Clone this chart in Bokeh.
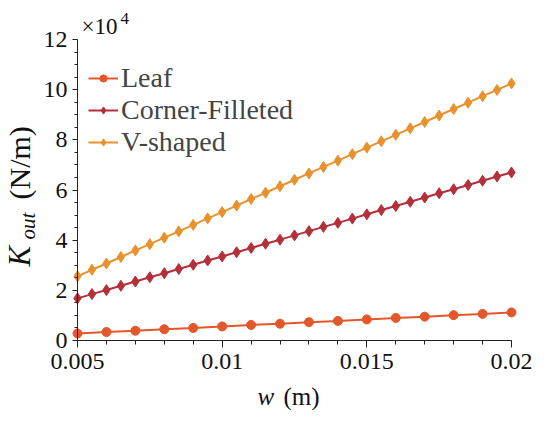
import math
from bokeh.plotting import figure
from bokeh.models import Range1d, FixedTicker, Label, Legend, LegendItem
from bokeh.embed import file_html
from bokeh.resources import INLINE

# ---- data (K_out in units of 1e4 N/m) ----
w_leaf = [0.005, 0.006, 0.007, 0.008, 0.009, 0.010, 0.011, 0.012,
          0.013, 0.014, 0.015, 0.016, 0.017, 0.018, 0.019, 0.020]
k_leaf = [0.28, 0.34, 0.39, 0.45, 0.50, 0.56, 0.62, 0.67,
          0.73, 0.78, 0.84, 0.90, 0.95, 1.01, 1.06, 1.12]

w_fine = [0.0050, 0.0055, 0.0060, 0.0065, 0.0070, 0.0075, 0.0080, 0.0085,
          0.0090, 0.0095, 0.0100, 0.0105, 0.0110, 0.0115, 0.0120, 0.0125,
          0.0130, 0.0135, 0.0140, 0.0145, 0.0150, 0.0155, 0.0160, 0.0165,
          0.0170, 0.0175, 0.0180, 0.0185, 0.0190, 0.0195, 0.0200]
k_corner = [1.68, 1.85, 2.01, 2.18, 2.35, 2.52, 2.68, 2.85, 3.02, 3.19,
            3.35, 3.52, 3.69, 3.86, 4.02, 4.19, 4.36, 4.53, 4.69, 4.86,
            5.03, 5.20, 5.36, 5.53, 5.70, 5.87, 6.03, 6.20, 6.37, 6.54, 6.70]
k_vshape = [2.56, 2.82, 3.07, 3.33, 3.59, 3.84, 4.10, 4.35, 4.61, 4.87,
            5.12, 5.38, 5.64, 5.89, 6.15, 6.41, 6.66, 6.92, 7.17, 7.43,
            7.69, 7.94, 8.20, 8.46, 8.71, 8.97, 9.23, 9.48, 9.74, 9.99, 10.25]

series_names = ["Leaf", "Corner-Filleted", "V-shaped"]
x_ticks = [0.005, 0.01, 0.015, 0.02]
x_tick_labels = ["0.005", "0.01", "0.015", "0.02"]
x_minor = [0.005, 0.006, 0.007, 0.008, 0.009, 0.010, 0.011, 0.012,
           0.013, 0.014, 0.015, 0.016, 0.017, 0.018, 0.019, 0.020]
y_ticks = [0, 2, 4, 6, 8, 10, 12]
y_minor = [i * 0.5 for i in range(25)]
x_lim = (0.005, 0.02)
y_lim = (0, 12)

FONT = "Liberation Serif"
C_LEAF = "#E4572A"
C_CORNER = "#B3303A"
C_V = "#E8922F"

# ---- layout: the frame covers the whole canvas; axes are fixed inside it ----
W, H = 534, 410
PX_L, PX_R = 77, 511      # pixel columns of x_lim
PY_B, PY_T = 340, 39      # pixel rows of y_lim
sxp = (x_lim[1] - x_lim[0]) / (PX_R - PX_L)
syp = (y_lim[1] - y_lim[0]) / (PY_B - PY_T)
xr = Range1d(x_lim[0] - PX_L * sxp, x_lim[1] + (W - PX_R) * sxp)
yr = Range1d(y_lim[0] - (H - PY_B) * syp, y_lim[1] + PY_T * syp)

p = figure(width=W, height=H, min_border=0,
           x_range=xr, y_range=yr,
           output_backend="svg", toolbar_location=None)
p.outline_line_color = None
p.xgrid.visible = False
p.ygrid.visible = False

p.xaxis.fixed_location = y_lim[0]
p.xaxis.bounds = x_lim
p.yaxis.fixed_location = x_lim[0]
p.yaxis.bounds = y_lim

p.xaxis.ticker = FixedTicker(ticks=x_ticks, minor_ticks=x_minor)
p.xaxis.major_label_overrides = {t: l for t, l in zip(x_ticks, x_tick_labels)}
p.yaxis.ticker = FixedTicker(ticks=y_ticks, minor_ticks=y_minor)
for ax in (p.xaxis, p.yaxis):
    ax.axis_line_color = "#222222"
    ax.major_tick_line_color = "#222222"
    ax.minor_tick_line_color = "#222222"
    ax.major_tick_in = 0
    ax.minor_tick_in = 0
    ax.major_label_text_font = FONT
    ax.major_label_text_font_size = "24px"
    ax.major_label_text_color = "#111111"
p.xaxis.major_tick_out = 7
p.xaxis.minor_tick_out = 4
p.yaxis.major_tick_out = 5
p.yaxis.minor_tick_out = 3
p.xaxis.major_label_standoff = 6
p.yaxis.major_label_standoff = 5

items = []
for name, xs, ys, col, mk, sz in [
        (series_names[0], w_leaf, k_leaf, C_LEAF, "circle", 9),
        (series_names[1], w_fine, k_corner, C_CORNER, "diamond", 11),
        (series_names[2], w_fine, k_vshape, C_V, "diamond", 11)]:
    l = p.line(xs, ys, line_color=col, line_width=2)
    s = p.scatter(xs, ys, marker=mk, size=sz, fill_color=col, line_color=col)
    items.append(LegendItem(label=name, renderers=[l, s]))

leg = Legend(items=items, location=(88, 252))
leg.border_line_color = None
leg.background_fill_alpha = 0
leg.padding = 0
leg.margin = 0
leg.spacing = 0
leg.glyph_width = 30
leg.glyph_height = 18
leg.label_height = 31
leg.label_standoff = 3
leg.label_text_font = FONT
leg.label_text_font_size = "28px"
leg.label_text_baseline = "middle"
p.add_layout(leg, "center")

def lab(txt, px, py, size, style="normal", angle=0.0):
    # px, py: canvas pixels from the top-left corner
    p.add_layout(Label(x=px, y=H - py, x_units="screen", y_units="screen", text=txt,
                       text_font=FONT, text_font_size=size, text_font_style=style,
                       text_color="#111111", angle=angle, text_align="left",
                       text_baseline="alphabetic"))

# x axis label
lab("w", 257, 396, "25px", "italic")
lab("(m)", 283, 396, "25px")
# y axis label (rotated)
lab("K", 19, 266, "31px", "italic", math.pi / 2)
lab("out", 27, 239, "21px", "italic", math.pi / 2)
lab("(N/m)", 19, 199, "30px", "normal", math.pi / 2)
# multiplier
lab("\u00d710", 81, 26, "23px")
lab("4", 120, 18, "17px")

open("out.html", "w").write(file_html(p, INLINE))
